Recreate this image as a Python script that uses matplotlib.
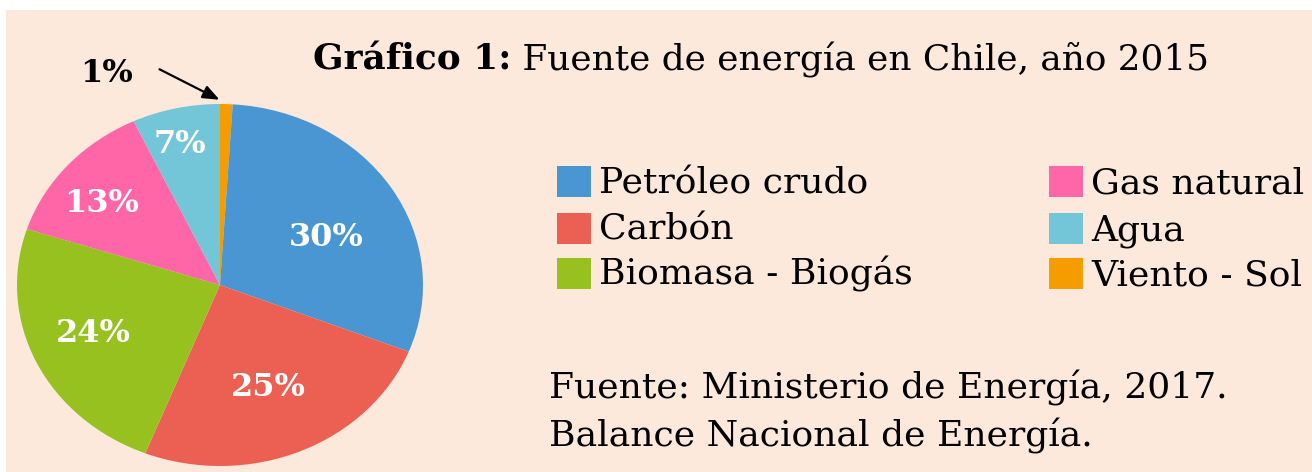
import matplotlib.pyplot as plt
from matplotlib.patches import Rectangle

# ---- datos ----
fuentes = ["Viento - Sol", "Petróleo crudo", "Carbón", "Biomasa - Biogás",
           "Gas natural", "Agua"]
porcentajes = [1, 30, 25, 24, 13, 7]
colores = ["#f49c00", "#4a96d2", "#eb6052", "#96c11f", "#ff66a8", "#73c6d8"]

# orden de la leyenda (dos columnas)
leyenda_izq = ["Petróleo crudo", "Carbón", "Biomasa - Biogás"]
leyenda_der = ["Gas natural", "Agua", "Viento - Sol"]

titulo_negrita = "Gráfico 1:"
titulo = " Fuente de energía en Chile, año 2015"
fuente_lineas = ["Fuente: Ministerio de Energía, 2017.",
                 "Balance Nacional de Energía."]

BG = "#fde8dc"
SERIF = "DejaVu Serif"
W, H = 1312, 472

fig = plt.figure(figsize=(W / 100, H / 100), dpi=100)
fig.patch.set_facecolor("white")
fig.add_artist(Rectangle((6 / W, 0), 1, 1 - 10 / H, transform=fig.transFigure,
                         facecolor=BG, edgecolor="none", zorder=0))

# ---- pie (ligeramente achatado, como en el original) ----
cx, cy, rx, ry = 220, 285, 203, 181
ax = fig.add_axes([(cx - rx) / W, 1 - (cy + ry) / H, 2 * rx / W, 2 * ry / H])
wedges, _ = ax.pie(porcentajes, colors=colores, startangle=90,
                   counterclock=False, radius=1,
                   wedgeprops=dict(linewidth=0))
ax.set_aspect("auto")
ax.set_xlim(-1, 1)
ax.set_ylim(-1, 1)
ax.axis("off")

etiqueta_pos = {30: (326, 237), 25: (268, 387), 24: (93, 333),
                13: (102, 203), 7: (180, 144)}
for p in porcentajes:
    if p in etiqueta_pos:
        x, y = etiqueta_pos[p]
        fig.text(x / W, 1 - y / H, f"{p}%", color="white", fontsize=23,
                 fontweight="bold", family=SERIF,
                 ha="center", va="center")

# 1% con flecha
fig.text(107 / W, 1 - 74 / H, "1%", color="black", fontsize=23,
         fontweight="bold", family=SERIF, ha="center", va="center")
ax.annotate("", xy=(222 / W, 1 - 101 / H), xytext=(157 / W, 1 - 68 / H),
            xycoords="figure fraction", textcoords="figure fraction",
            arrowprops=dict(arrowstyle="-|>,head_length=1.0,head_width=0.4",
                            color="black", lw=1.6))

# ---- título ----
t1 = fig.text(313 / W, 1 - 70 / H, titulo_negrita, fontsize=25.8,
              fontweight="bold", family=SERIF,
              ha="left", va="baseline")
fig.canvas.draw()
bb = t1.get_window_extent()
fig.text(bb.x1 / W, 1 - 70 / H, titulo, fontsize=25.8,
         family=SERIF, ha="left", va="baseline")

# ---- leyenda ----
filas_y = [181, 228, 273]
for col_x, nombres in ((557, leyenda_izq), (1049, leyenda_der)):
    for y, nombre in zip(filas_y, nombres):
        c = colores[fuentes.index(nombre)]
        fig.add_artist(Rectangle((col_x / W, 1 - (y + 16) / H), 34 / W, 31 / H,
                                 transform=fig.transFigure, facecolor=c,
                                 edgecolor="none"))
        fig.text((col_x + 42) / W, 1 - (y + 12) / H, nombre, fontsize=26,
                 family=SERIF, ha="left", va="baseline")

# ---- fuente ----
for y, linea in zip([398, 446], fuente_lineas):
    fig.text(549 / W, 1 - y / H, linea, fontsize=26,
             family=SERIF, ha="left", va="baseline")

plt.savefig("out.png", dpi=100, facecolor=fig.get_facecolor())
